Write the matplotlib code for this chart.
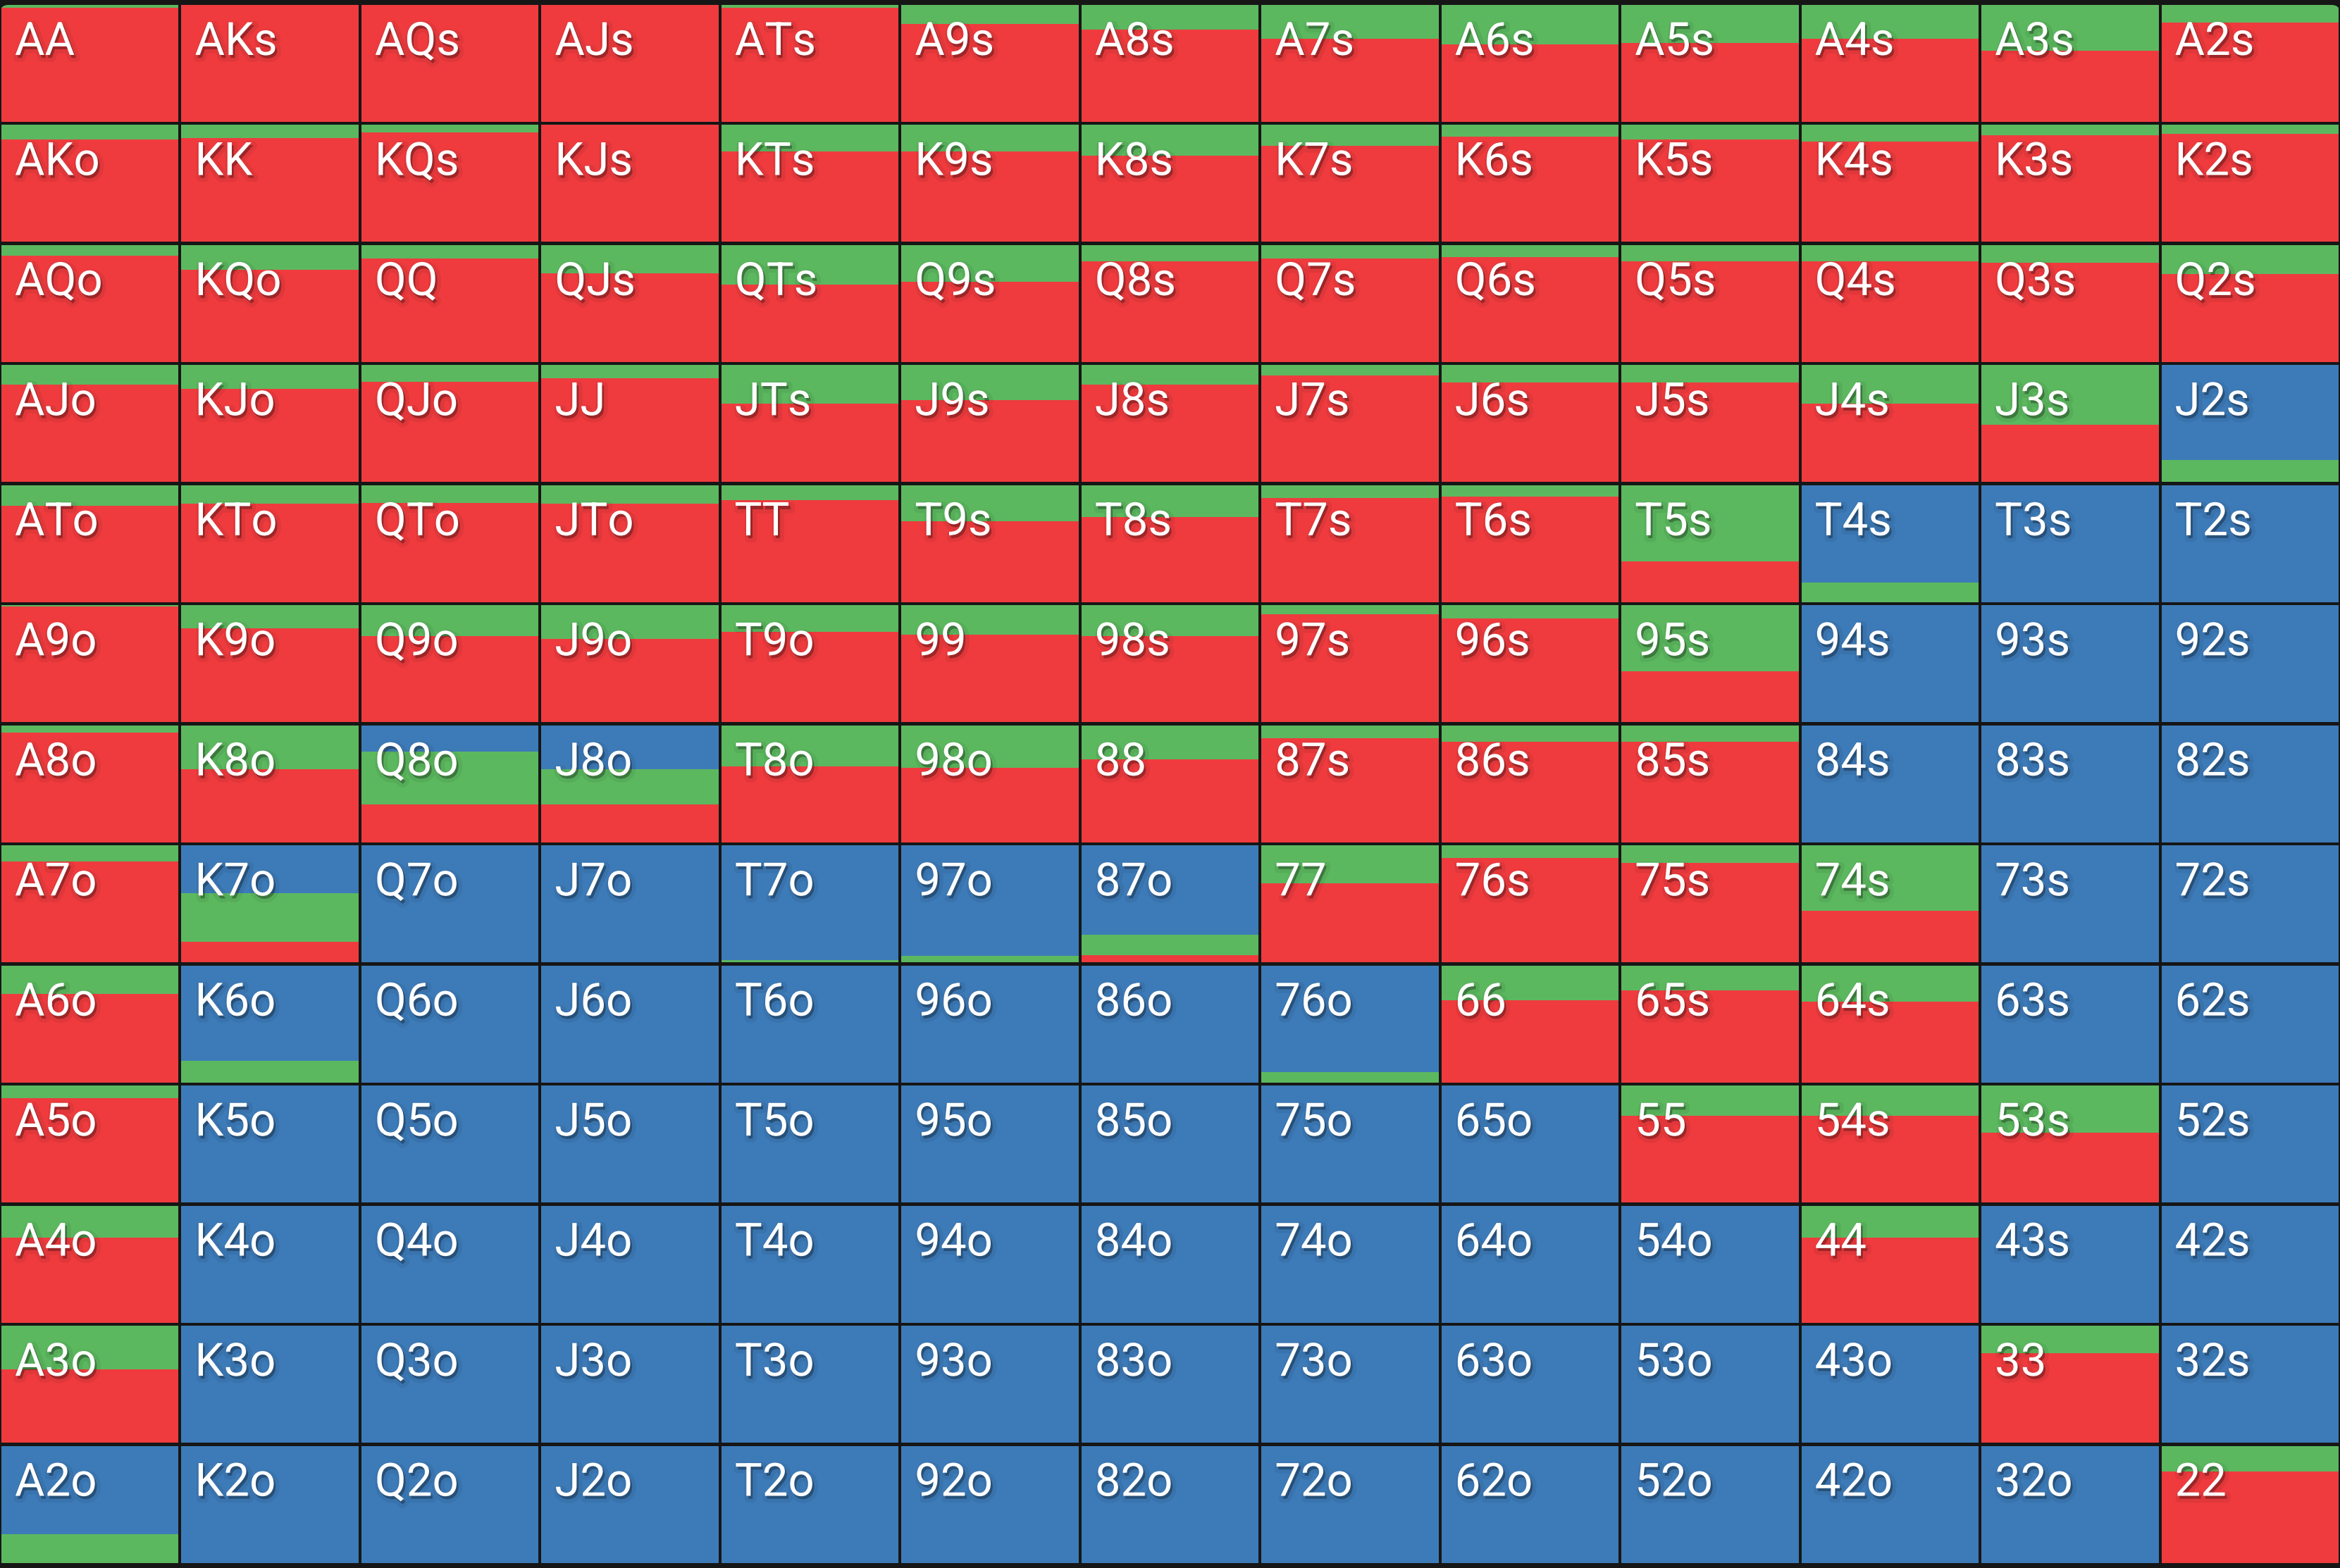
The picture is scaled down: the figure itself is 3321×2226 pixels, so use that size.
import numpy as np
import matplotlib.pyplot as plt
import matplotlib.patheffects as pe
from matplotlib.patches import FancyBboxPatch
from matplotlib.transforms import IdentityTransform

# Hand ranks, row/column order of the grid
ranks = ['A', 'K', 'Q', 'J', 'T', '9', '8', '7', '6', '5', '4', '3', '2']

# Raise frequency (red), read per cell, row by row
raise_freq = [
    [0.976, 1.0, 1.0, 1.0, 0.976, 0.84, 0.79, 0.71, 0.66, 0.675, 0.71, 0.61, 0.85],
    [0.875, 0.89, 0.935, 1.0, 0.775, 0.775, 0.74, 0.825, 0.90, 0.875, 0.86, 0.915, 0.925],
    [0.91, 0.79, 0.885, 0.76, 0.66, 0.685, 0.86, 0.885, 0.90, 0.86, 0.86, 0.85, 0.75],
    [0.835, 0.80, 0.86, 0.885, 0.67, 0.70, 0.835, 0.91, 0.85, 0.85, 0.67, 0.49, 0.0],
    [0.825, 0.84, 0.85, 0.84, 0.875, 0.69, 0.73, 0.89, 0.90, 0.35, 0.0, 0.0, 0.0],
    [0.988, 0.80, 0.735, 0.71, 0.775, 0.75, 0.735, 0.925, 0.885, 0.435, 0.0, 0.0, 0.0],
    [0.938, 0.625, 0.325, 0.325, 0.65, 0.635, 0.71, 0.89, 0.86, 0.86, 0.0, 0.0, 0.0],
    [0.865, 0.175, 0.0, 0.0, 0.0, 0.0, 0.06, 0.675, 0.89, 0.85, 0.44, 0.0, 0.0],
    [0.76, 0.0, 0.0, 0.0, 0.0, 0.0, 0.0, 0.0, 0.70, 0.79, 0.69, 0.0, 0.0],
    [0.89, 0.0, 0.0, 0.0, 0.0, 0.0, 0.0, 0.0, 0.0, 0.74, 0.74, 0.60, 0.0],
    [0.725, 0.0, 0.0, 0.0, 0.0, 0.0, 0.0, 0.0, 0.0, 0.0, 0.725, 0.0, 0.0],
    [0.625, 0.0, 0.0, 0.0, 0.0, 0.0, 0.0, 0.0, 0.0, 0.0, 0.0, 0.765, 0.0],
    [0.0, 0.0, 0.0, 0.0, 0.0, 0.0, 0.0, 0.0, 0.0, 0.0, 0.0, 0.0, 0.78],
]

# Call frequency (green)
call_freq = [
    [0.024, 0.0, 0.0, 0.0, 0.024, 0.16, 0.21, 0.29, 0.34, 0.325, 0.29, 0.39, 0.15],
    [0.125, 0.11, 0.065, 0.0, 0.225, 0.225, 0.26, 0.175, 0.10, 0.125, 0.14, 0.085, 0.075],
    [0.09, 0.21, 0.115, 0.24, 0.34, 0.315, 0.14, 0.115, 0.10, 0.14, 0.14, 0.15, 0.25],
    [0.165, 0.20, 0.14, 0.115, 0.33, 0.30, 0.165, 0.09, 0.15, 0.15, 0.33, 0.51, 0.19],
    [0.175, 0.16, 0.15, 0.16, 0.125, 0.31, 0.27, 0.11, 0.10, 0.65, 0.165, 0.0, 0.0],
    [0.012, 0.20, 0.265, 0.29, 0.225, 0.25, 0.265, 0.075, 0.115, 0.565, 0.0, 0.0, 0.0],
    [0.062, 0.375, 0.45, 0.30, 0.35, 0.365, 0.29, 0.11, 0.14, 0.14, 0.0, 0.0, 0.0],
    [0.135, 0.415, 0.0, 0.0, 0.02, 0.055, 0.175, 0.325, 0.11, 0.15, 0.56, 0.0, 0.0],
    [0.24, 0.185, 0.0, 0.0, 0.0, 0.0, 0.0, 0.09, 0.30, 0.21, 0.31, 0.0, 0.0],
    [0.11, 0.0, 0.0, 0.0, 0.0, 0.0, 0.0, 0.0, 0.0, 0.26, 0.26, 0.40, 0.0],
    [0.275, 0.0, 0.0, 0.0, 0.0, 0.0, 0.0, 0.0, 0.0, 0.0, 0.275, 0.0, 0.0],
    [0.375, 0.0, 0.0, 0.0, 0.0, 0.0, 0.0, 0.0, 0.0, 0.0, 0.0, 0.235, 0.0],
    [0.245, 0.0, 0.0, 0.0, 0.0, 0.0, 0.0, 0.0, 0.0, 0.0, 0.0, 0.0, 0.22],
]

RAISE_COLOR = '#ef3b3e'
CALL_COLOR = '#5cb85f'
FOLD_COLOR = '#3d7bb8'
BG_COLOR = '#161616'

raise_arr = np.array(raise_freq)
call_arr = np.array(call_freq)
fold_arr = np.clip(1.0 - raise_arr - call_arr, 0, 1)   # whatever is left is fold

W, H = 3321, 2226
DPI = 100
fig = plt.figure(figsize=(W / DPI, H / DPI), dpi=DPI, facecolor=BG_COLOR)
ax = fig.add_axes([0, 0, 1, 1])
ax.set_facecolor(BG_COLOR)

# grid pitch in pixels: 255.5 wide, 170.5 tall, first row starts 7px down
col_px = 255.5
row_px = 170.5
ax.set_xlim(0, 13)
ax.set_ylim(13 + 3 / row_px, -7 / row_px)
ax.axis('off')

gap_x = 4 / col_px
gap_y = 4.5 / row_px
cell_h = 1 - gap_y

# rounded outer edge of the whole grid (display/pixel coords)
clip = FancyBboxPatch((0, 3), W, H - 10, boxstyle='round,pad=0,rounding_size=12',
                      transform=IdentityTransform(), facecolor='none', edgecolor='none')
fig.patches.append(clip)

# soft drop shadow under the white labels
shadow = [pe.SimpleLineShadow(offset=(2, -3), shadow_color='black', alpha=0.06, linewidth=8),
          pe.SimplePatchShadow(offset=(2, -3), shadow_rgbFace='black', alpha=0.3),
          pe.Normal()]

for i in range(13):
    for j in range(13):
        x = j + gap_x / 2
        # stacked from the top: fold (blue), call (green), raise (red)
        segs = [(fold_arr[i, j], FOLD_COLOR), (call_arr[i, j], CALL_COLOR),
                (raise_arr[i, j], RAISE_COLOR)]
        y = i
        for frac, col in segs:
            if frac <= 0:
                continue
            h = frac * cell_h
            bars = ax.bar(x, h, bottom=y, width=1 - gap_x, align='edge',
                          color=col, linewidth=0)
            for b in bars:
                b.set_clip_path(clip)
            y += h

        if i == j:
            label = ranks[i] + ranks[j]
        elif j > i:
            label = ranks[i] + ranks[j] + 's'
        else:
            label = ranks[j] + ranks[i] + 'o'
        ax.text(j + 21 / col_px, i + 71 / row_px, label, color='white',
                fontsize=47, family=['Roboto', 'DejaVu Sans'],
                ha='left', va='baseline', path_effects=shadow)

plt.savefig('out.png', dpi=DPI, facecolor=BG_COLOR)
